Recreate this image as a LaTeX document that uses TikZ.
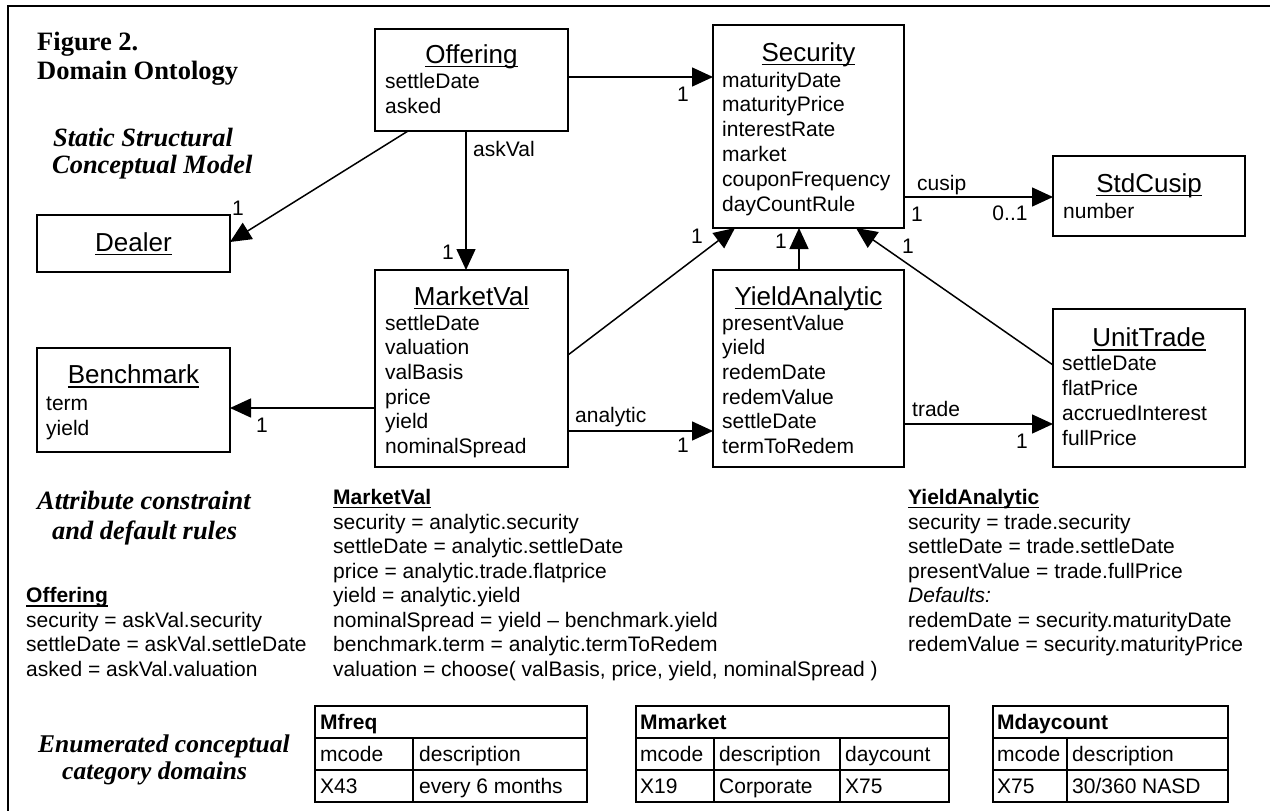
\documentclass[tikz,border=0pt]{standalone}
\usepackage{fontspec}
\setmainfont{Liberation Serif}
\newfontfamily\arial{Liberation Sans}
\newsavebox\ulbox
\newcommand\myul[1]{\sbox\ulbox{#1}\rlap{\rule[-4pt]{\wd\ulbox}{1.4pt}}\usebox\ulbox}
\usetikzlibrary{arrows.meta}
\begin{document}
\begin{tikzpicture}[x=1pt,y=-1pt,
  box/.style={draw, line width=1.6pt, inner sep=0pt, outer sep=0pt, anchor=north west},
  conn/.style={line width=1.5pt, -{Triangle[length=21pt,width=19pt]}},
  ttl/.style={font=\arial\fontsize{26}{30}\selectfont, anchor=base, inner sep=0pt},
  attr/.style={font=\arial\fontsize{21}{25}\selectfont, anchor=base west, inner sep=0pt},
  lbl/.style={font=\arial\fontsize{21}{25}\selectfont, anchor=base, inner sep=0pt},
  hd/.style={font=\bfseries\fontsize{26.5}{30}\selectfont, anchor=base west, inner sep=0pt},
  side/.style={font=\bfseries\itshape\fontsize{26.4}{30}\selectfont, anchor=base west, inner sep=0pt},
  rule/.style={font=\arial\fontsize{21}{25}\selectfont, anchor=base west, inner sep=0pt},
  tbltext/.style={font=\arial\fontsize{21}{25}\selectfont, anchor=base west, inner sep=0pt},
  tblline/.style={line width=1.5pt},
  frame/.style={line width=2pt}
]
\useasboundingbox (0,0) rectangle (1270,811);
\draw[frame] (1270,6) -- (8,6) -- (8,811);

% headings
\node[hd] (fig) at (37,50) {Figure 2.};
\node[hd] (dom) at (37,79) {Domain Ontology};
\node[side] (s1) at (53,146) {Static Structural};
\node[side] (s2) at (52,173) {Conceptual Model};
\node[side] (s3) at (37,509) {Attribute constraint};
\node[side] (s4) at (52,539) {and default rules};
\node[side, font=\bfseries\itshape\fontsize{25.5}{30}\selectfont] (s5) at (38,752) {Enumerated conceptual};
\node[side, font=\bfseries\itshape\fontsize{25.5}{30}\selectfont] (s6) at (62,779) {category domains};

% boxes
\node[box, minimum width=193pt, minimum height=102pt] (off) at (375,29) {};
\node[box, minimum width=191pt, minimum height=203pt] (sec) at (713,25) {};
\node[box, minimum width=192pt, minimum height=80pt] (std) at (1053,156) {};
\node[box, minimum width=193pt, minimum height=57pt] (deal) at (37,215) {};
\node[box, minimum width=193pt, minimum height=104pt] (bench) at (37,348) {};
\node[box, minimum width=193pt, minimum height=197pt] (mv) at (375,270) {};
\node[box, minimum width=191pt, minimum height=197pt] (ya) at (713,270) {};
\node[box, minimum width=192pt, minimum height=158pt] (ut) at (1053,309) {};

% box texts
\node[ttl] (offT) at (471.5,63) {\myul{Offering}};
\foreach \t [count=\i from 0] in {settleDate,asked}
  \node[attr] (offA\i) at (385,{88+25*\i}) {\t};
\node[ttl] (secT) at (808.5,61) {\myul{Security}};
\foreach \t [count=\i from 0] in {maturityDate,maturityPrice,interestRate,market,couponFrequency,dayCountRule}
  \node[attr] (secA\i) at (722,{87+24.8*\i}) {\t};
\node[ttl] (stdT) at (1149,192) {\myul{StdCusip}};
\node[attr] (stdA0) at (1063,218) {number};
\node[ttl] (dealT) at (133.5,251) {\myul{Dealer}};
\node[ttl] (benchT) at (133.5,383.5) {\myul{Benchmark}};
\foreach \t [count=\i from 0] in {term,yield}
  \node[attr] (benchA\i) at (46,{410+25*\i}) {\t};
\node[ttl] (mvT) at (471.5,305) {\myul{MarketVal}};
\foreach \t [count=\i from 0] in {settleDate,valuation,valBasis,price,yield,nominalSpread}
  \node[attr] (mvA\i) at (385,{330+24.7*\i}) {\t};
\node[ttl] (yaT) at (808.5,305) {\myul{YieldAnalytic}};
\foreach \t [count=\i from 0] in {presentValue,yield,redemDate,redemValue,settleDate,termToRedem}
  \node[attr] (yaA\i) at (722,{330+24.7*\i}) {\t};
\node[ttl] (utT) at (1149,346.5) {\myul{UnitTrade}};
\foreach \t [count=\i from 0] in {settleDate,flatPrice,accruedInterest,fullPrice}
  \node[attr] (utA\i) at (1062,{370+25*\i}) {\t};

% connectors
\draw[conn] (off.east |- 0,77) -- (sec.west |- 0,77);
\draw[conn] (408,0 |- off.south) -- (deal.east |- 0,242);
\draw[conn] (466,0 |- off.south) -- (466,0 |- mv.north);
\draw[conn] (mv.east |- 0,355) -- (735,0 |- sec.south);
\draw[conn] (799,0 |- ya.north) -- (799,0 |- sec.south);
\draw[conn] (ut.west |- 0,365) -- (856,0 |- sec.south);
\draw[conn] (sec.east |- 0,197) -- (std.west |- 0,197);
\draw[conn] (mv.west |- 0,408) -- (bench.east |- 0,408);
\draw[conn] (mv.east |- 0,431) -- (ya.west |- 0,431);
\draw[conn] (ya.east |- 0,424) -- (ut.west |- 0,424);

% connector labels
\node[lbl] (l1) at (683,101.5) {1};
\node[lbl] (l2) at (238,215) {1};
\node[lbl, anchor=base west] (l3) at (473,156) {askVal};
\node[lbl] (l4) at (448,259) {1};
\node[lbl] (l5) at (697,243) {1};
\node[lbl] (l6) at (781,248) {1};
\node[lbl] (l7) at (908,253) {1};
\node[lbl, anchor=base west] (l8) at (917,190.5) {cusip};
\node[lbl] (l9) at (917,221.5) {1};
\node[lbl] (l10) at (1010,220) {0..1};
\node[lbl] (l11) at (262,432.5) {1};
\node[lbl, anchor=base west] (l12) at (575,422) {analytic};
\node[lbl] (l13) at (683,452) {1};
\node[lbl, anchor=base west] (l14) at (912,416.5) {trade};
\node[lbl] (l15) at (1022,448) {1};

% rules
\node[rule] (rOh) at (26,602.5) {\bfseries\myul{Offering}};
\foreach \t [count=\i from 0] in {security = askVal.security,settleDate = askVal.settleDate,asked = askVal.valuation}
  \node[rule] (rO\i) at (26,{627+24.5*\i}) {\t};
\node[rule] (rMh) at (333,504) {\bfseries\myul{MarketVal}};
\foreach \t [count=\i from 0] in {security = analytic.security,settleDate = analytic.settleDate,price = analytic.trade.flatprice,yield = analytic.yield,nominalSpread = yield – benchmark.yield,benchmark.term = analytic.termToRedem,{valuation = choose( valBasis, price, yield, nominalSpread )}}
  \node[rule] (rM\i) at (333,{529+24.5*\i}) {\t};
\node[rule] (rYh) at (908,504) {\bfseries\myul{YieldAnalytic}};
\foreach \t [count=\i from 0] in {security = trade.security,settleDate = trade.settleDate,presentValue = trade.fullPrice,\textit{Defaults:},redemDate = security.maturityDate,redemValue = security.maturityPrice}
  \node[rule] (rY\i) at (908,{529+24.5*\i}) {\t};

% tables
\draw[tblline] (315,706) rectangle (587,802);
\draw[tblline] (315,738) -- (587,738) (315,770) -- (587,770) (413,738) -- (413,802);
\node[tbltext] (t1h) at (320,729.5) {\bfseries Mfreq};
\node[tbltext] (t1a) at (320,761.5) {mcode};
\node[tbltext] (t1b) at (419,761.5) {description};
\node[tbltext] (t1c) at (320,793.5) {X43};
\node[tbltext] (t1d) at (419,793.5) {every 6 months};

\draw[tblline] (636,706) rectangle (949,802);
\draw[tblline] (636,738) -- (949,738) (636,770) -- (949,770) (714,738) -- (714,802) (840,738) -- (840,802);
\node[tbltext] (t2h) at (640,729.5) {\bfseries Mmarket};
\node[tbltext] (t2a) at (640,761.5) {mcode};
\node[tbltext] (t2b) at (719,761.5) {description};
\node[tbltext] (t2c) at (845,761.5) {daycount};
\node[tbltext] (t2d) at (640,793.5) {X19};
\node[tbltext] (t2e) at (719,793.5) {Corporate};
\node[tbltext] (t2f) at (845,793.5) {X75};

\draw[tblline] (993,706) rectangle (1228,802);
\draw[tblline] (993,738) -- (1228,738) (993,770) -- (1228,770) (1067,738) -- (1067,802);
\node[tbltext] (t3h) at (997,729.5) {\bfseries Mdaycount};
\node[tbltext] (t3a) at (997,761.5) {mcode};
\node[tbltext] (t3b) at (1072,761.5) {description};
\node[tbltext] (t3c) at (997,793.5) {X75};
\node[tbltext] (t3d) at (1072,793.5) {30/360 NASD};
\end{tikzpicture}
\end{document}
